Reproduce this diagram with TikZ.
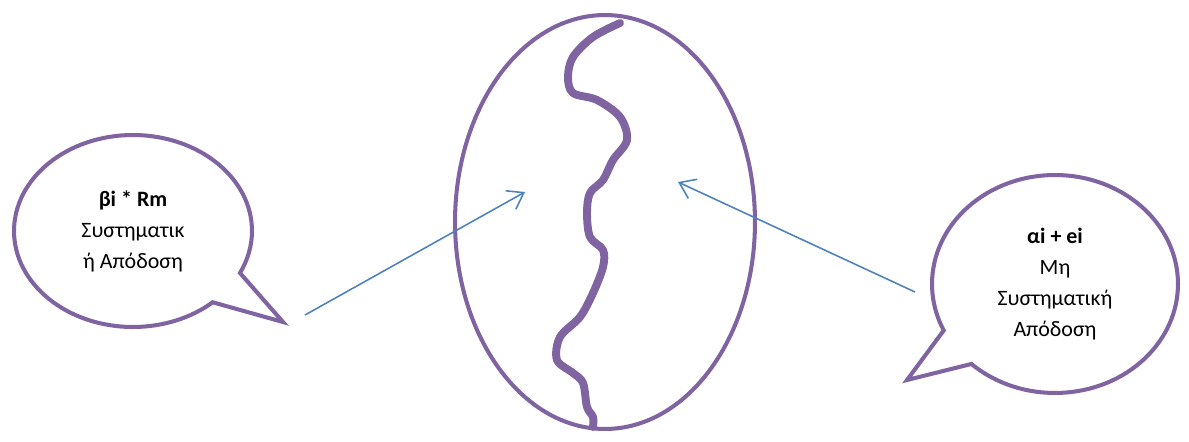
\documentclass[tikz,border=0pt]{standalone}
\usepackage{fontspec}
\setmainfont{Carlito}
\usepackage{tikz}
\usepackage{xcolor}
\usetikzlibrary{arrows.meta,shapes.geometric,shapes.callouts}
\definecolor{ovalpurple}{RGB}{128,100,162}
\definecolor{arrowblue}{RGB}{79,129,189}

\begin{document}
\begin{tikzpicture}[x=0.02cm, y=0.02cm, >={Straight Barb[length=8.5pt,width=12pt]}, every node/.style={font=\fontsize{12.5}{17.6}\selectfont, align=center}]
\useasboundingbox (0,0) rectangle (1189,441);
\node[draw=ovalpurple,line width=2.3pt,ellipse,minimum width=6cm,minimum height=8.28cm] (oval) at (605,219) {};
\node[draw=ovalpurple,line width=2.3pt,ellipse callout,minimum width=4.76cm,minimum height=3.84cm,callout absolute pointer={(283,119)},callout pointer arc=22] (sys) at (133,210) {\textbf{βi * Rm}\\Συστηματικ\\ή Απόδοση};
\node[draw=ovalpurple,line width=2.3pt,ellipse callout,minimum width=4.92cm,minimum height=4.36cm,callout absolute pointer={(907,61)},callout pointer arc=22] (nonsys) at (1055,157) {\textbf{αi + ei}\\Μη\\Συστηματική\\Απόδοση};
% crack through the oval
\draw[ovalpurple,line width=4.5pt,line cap=round,line join=round] plot[smooth,tension=0.55] coordinates {(620,418) (593,404) (573,384) (568,364) (573,348) (597,341) (620,324) (627,301) (613,281) (603,261) (590,248) (587,228) (590,204) (603,191) (603,174) (593,148) (580,124) (560,104) (557,81) (573,68) (583,58) (587,34) (593,24) (593,14)};
\coordinate (ls) at (305,126);
\coordinate (le) at (525,249);
\coordinate (rs) at (915,149);
\coordinate (re) at (678,259);
\draw[->,arrowblue,line width=0.9pt] (ls) -- (le);
\draw[->,arrowblue,line width=0.9pt] (rs) -- (re);
\end{tikzpicture}
\end{document}
